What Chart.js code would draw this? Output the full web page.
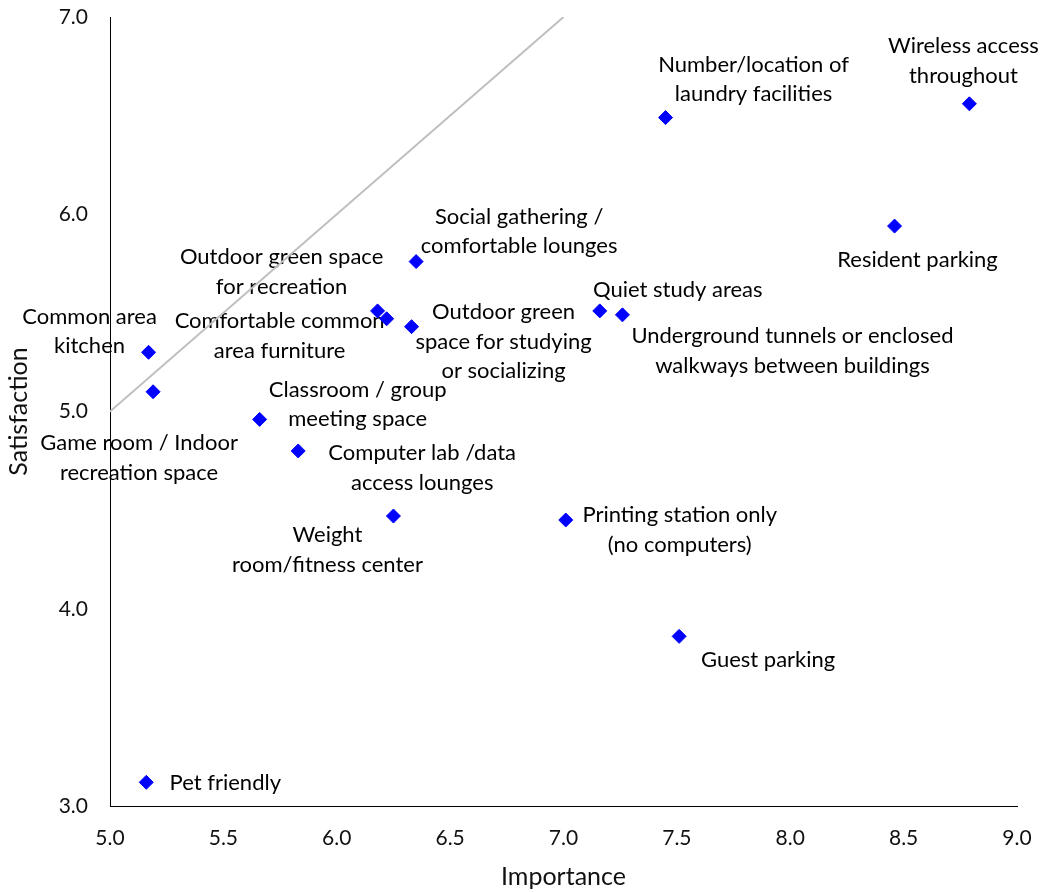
<!DOCTYPE html>
<html>
<head>
<meta charset="utf-8">
<script src="https://cdn.jsdelivr.net/npm/chart.js@4.4.1/dist/chart.umd.min.js"></script>
<style>
  body { margin: 0; background: #fff; }
  canvas { display: block; }
</style>
</head>
<body>
<canvas id="grafik" width="1042" height="892"></canvas>
<script>
// item names (line breaks as in the picture)
const itemNames = [
    "Wireless access\nthroughout",
    "Number/location of\nlaundry facilities",
    "Resident parking",
    "Social gathering /\ncomfortable lounges",
    "Outdoor green space\nfor recreation",
    "Comfortable common\narea furniture",
    "Outdoor green\nspace for studying\nor socializing",
    "Quiet study areas",
    "Underground tunnels or enclosed\nwalkways between buildings",
    "Common area\nkitchen",
    "Game room / Indoor\nrecreation space",
    "Classroom / group\nmeeting space",
    "Computer lab /data\naccess lounges",
    "Weight\nroom/fitness center",
    "Printing station only\n(no computers)",
    "Guest parking",
    "Pet friendly"
];
const importance   = [8.79, 7.45, 8.46, 6.35, 6.18, 6.22, 6.33, 7.16, 7.26, 5.17, 5.19, 5.66, 5.83, 6.25, 7.01, 7.51, 5.16];
const satisfaction = [6.56, 6.49, 5.94, 5.76, 5.51, 5.47, 5.43, 5.51, 5.49, 5.30, 5.10, 4.96, 4.80, 4.47, 4.45, 3.86, 3.12];

// reference diagonal (importance = satisfaction)
const diagX = [5.0, 7.0];
const diagY = [5.0, 7.0];

// tick labels
const xTicks = [5.0, 5.5, 6.0, 6.5, 7.0, 7.5, 8.0, 8.5, 9.0];
const yTicks = [3.0, 4.0, 5.0, 6.0, 7.0];

// where each label sits next to its marker, in px (dx, dy of the text block centre)
const labelSpots = [
    [-6, -43], [88, -38], [23, 34], [103, -30], [-96, -39], [-107, 17],
    [92, 15], [78, -21], [170, 36], [-59, -21], [-14, 66], [98, -15],
    [124, 17], [-66, 34], [114, 10], [89, 24], [79, 1]
];

const yaziFont = "Lato, 'Open Sans', sans-serif";

const noktalar = importance.map((x, i) => ({ x: x, y: satisfaction[i] }));
const diagonal = diagX.map((x, i) => ({ x: x, y: diagY[i] }));

// label plugin: draws the item names centred next to the markers
const etiketler = {
    id: 'etiketler',
    beforeDatasetsDraw(chart) {
        const ctx = chart.ctx;
        const meta = chart.getDatasetMeta(0);
        const satir = 29.3;
        ctx.save();
        ctx.font = "22px " + yaziFont;
        ctx.fillStyle = "#000";
        ctx.textAlign = "center";
        ctx.textBaseline = "middle";
        meta.data.forEach((p, i) => {
            const lines = itemNames[i].split("\n");
            const cx = p.x + labelSpots[i][0];
            const cy = p.y + labelSpots[i][1] - (lines.length - 1) * satir / 2;
            lines.forEach((t, k) => ctx.fillText(t, cx, cy + k * satir));
        });
        ctx.restore();
    }
};

new Chart(document.getElementById('grafik'), {
    type: 'scatter',
    data: {
        datasets: [
            {
                data: noktalar,
                backgroundColor: '#0000FF',
                borderColor: '#0000FF',
                borderWidth: 1,
                pointStyle: 'rectRot',
                pointRadius: 7,
                pointHoverRadius: 7
            },
            {
                type: 'line',
                data: diagonal,
                borderColor: '#BFBFBF',
                borderWidth: 2,
                pointRadius: 0,
                fill: false
            }
        ]
    },
    options: {
        responsive: false,
        animation: false,
        layout: { padding: { top: 17, right: 25, left: 0, bottom: 0 } },
        plugins: {
            legend: { display: false },
            tooltip: { enabled: false }
        },
        scales: {
            x: {
                type: 'linear',
                min: 5, max: 9,
                afterBuildTicks: s => { s.ticks = xTicks.map(v => ({ value: v })); },
                afterFit: s => {
                    s.height = 86;
                    s.paddingLeft = 0;
                    s.paddingRight = 0;
                },
                grid: { display: true, drawOnChartArea: false, drawTicks: false },
                border: { display: true, color: '#000', width: 1 },
                ticks: {
                    padding: 20,
                    color: '#111',
                    font: { family: yaziFont, size: 21 },
                    callback: v => Number(v).toFixed(1)
                },
                title: {
                    display: true,
                    text: 'Importance',
                    color: '#111',
                    font: { family: yaziFont, size: 25 },
                    padding: { top: 0, bottom: 0 }
                }
            },
            y: {
                type: 'linear',
                min: 3, max: 7,
                afterBuildTicks: s => { s.ticks = yTicks.map(v => ({ value: v })); },
                afterFit: s => {
                    s.width = 110;
                    s.paddingTop = 0;
                    s.paddingBottom = 0;
                },
                grid: { display: true, drawOnChartArea: false, drawTicks: false },
                border: { display: true, color: '#000', width: 1 },
                ticks: {
                    padding: 22,
                    color: '#111',
                    font: { family: yaziFont, size: 21 },
                    callback: v => Number(v).toFixed(1)
                },
                title: {
                    display: true,
                    text: 'Satisfaction',
                    color: '#111',
                    font: { family: yaziFont, size: 25 },
                    padding: { top: 4, bottom: 0 }
                }
            }
        }
    },
    plugins: [etiketler]
});
</script>
</body>
</html>
